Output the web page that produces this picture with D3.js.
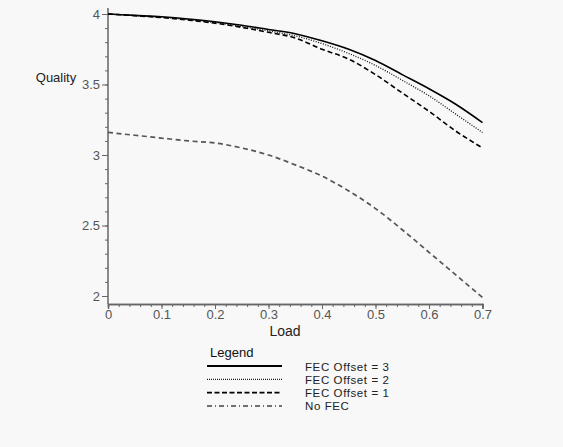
<!DOCTYPE html>
<html>
<head>
<meta charset="utf-8">
<script src="https://cdn.jsdelivr.net/npm/d3@7"></script>
<style>
  html, body { margin: 0; padding: 0; background: #f8f8f8; }
  svg { display: block; font-family: "Liberation Sans", Arial, sans-serif; }
</style>
</head>
<body>
<svg id="chart" width="563" height="447"></svg>
<script>
// load values (x axis)
const load = [0, 0.05, 0.1, 0.15, 0.2, 0.25, 0.3, 0.35, 0.4, 0.45, 0.5, 0.55, 0.6, 0.65, 0.7];
// quality per series
const fec3 = [4.00, 3.99, 3.98, 3.965, 3.945, 3.92, 3.89, 3.86, 3.81, 3.75, 3.67, 3.57, 3.47, 3.36, 3.23];
const fec2 = [4.00, 3.99, 3.978, 3.96, 3.94, 3.912, 3.88, 3.845, 3.79, 3.72, 3.635, 3.53, 3.42, 3.29, 3.16];
const fec1 = [4.00, 3.988, 3.975, 3.957, 3.935, 3.905, 3.87, 3.83, 3.75, 3.68, 3.57, 3.44, 3.31, 3.17, 3.05];
const noFec = [3.16, 3.14, 3.12, 3.10, 3.085, 3.05, 3.00, 2.93, 2.85, 2.745, 2.62, 2.47, 2.31, 2.15, 1.99];
const seriesNames = ["FEC Offset = 3", "FEC Offset = 2", "FEC Offset = 1", "No FEC"];
const xTicks = [0, 0.1, 0.2, 0.3, 0.4, 0.5, 0.6, 0.7];
const yTicks = [2, 2.5, 3, 3.5, 4];

const svg = d3.select("#chart");
const x = d3.scaleLinear().domain([0, 0.7]).range([108, 482.5]);
const y = d3.scaleLinear().domain([2, 4]).range([296, 14]);
const axisColor = "#666";
const labelColor = "#555";

// x axis
const xAxisG = svg.append("g").attr("transform", "translate(0,304)");
xAxisG.call(d3.axisBottom(x).tickValues(d3.range(0, 0.7001, 0.02)).tickSize(3).tickFormat(""));
xAxisG.call(g => g.append("g").call(d3.axisBottom(x).tickValues(xTicks).tickSize(5).tickFormat(d => d === 0 ? "0" : d3.format(".1f")(d))));
xAxisG.selectAll(".domain").attr("stroke", axisColor).attr("stroke-width", 1.5);
xAxisG.selectAll(".tick line").attr("stroke", axisColor);
xAxisG.selectAll("text").attr("fill", labelColor).attr("font-size", 13).attr("dy", "0.5em").attr("font-family", "Liberation Sans, Arial, sans-serif");

// y axis
const yAxisG = svg.append("g").attr("transform", "translate(108,0)");
yAxisG.call(d3.axisLeft(y).tickValues(d3.range(2, 4.0001, 0.1)).tickSize(3).tickFormat(""));
yAxisG.call(g => g.append("g").call(d3.axisLeft(y).tickValues(yTicks).tickSize(6).tickFormat(d3.format("~g"))));
yAxisG.selectAll(".domain").remove();
yAxisG.append("line").attr("x1", 0).attr("x2", 0).attr("y1", 8).attr("y2", 304)
  .attr("stroke", axisColor).attr("stroke-width", 1.5);
yAxisG.selectAll(".tick line").attr("stroke", axisColor);
yAxisG.selectAll("text").attr("fill", labelColor).attr("font-size", 13).attr("x", -8).attr("font-family", "Liberation Sans, Arial, sans-serif");

// axis titles
svg.append("text").attr("x", 56).attr("y", 82).attr("text-anchor", "middle")
  .attr("font-size", 13).attr("fill", "#222").text("Quality");
svg.append("text").attr("x", 285).attr("y", 336).attr("text-anchor", "middle")
  .attr("font-size", 14).attr("fill", "#222").text("Load");

// curves
const styles = [
  { data: fec3, stroke: "#000", width: 1.6, dash: null },
  { data: fec2, stroke: "#111", width: 1.3, dash: "1,1.5" },
  { data: fec1, stroke: "#000", width: 1.6, dash: "5,3" },
  { data: noFec, stroke: "#555", width: 1.7, dash: "5,3.5" }
];
const line = d3.line().x((d, i) => x(load[i])).y(d => y(d)).curve(d3.curveMonotoneX);
styles.forEach(s => {
  svg.append("path").attr("d", line(s.data)).attr("fill", "none")
    .attr("stroke", s.stroke).attr("stroke-width", s.width)
    .attr("stroke-dasharray", s.dash);
});

// legend
const legend = svg.append("g");
legend.append("text").attr("x", 210).attr("y", 357).attr("font-size", 13).attr("fill", "#111").text("Legend");
const legendDash = [null, "1,1", "5,2.5", "5,3,1,3"];
const legendCol = ["#000", "#222", "#000", "#444"];
const legendW = [1.8, 1.3, 1.8, 1.5];
seriesNames.forEach((name, i) => {
  const ly = 366 + i * 13.3;
  legend.append("line").attr("x1", 207).attr("x2", 282).attr("y1", ly).attr("y2", ly)
    .attr("stroke", legendCol[i]).attr("stroke-width", legendW[i]).attr("stroke-dasharray", legendDash[i]);
  legend.append("text").attr("x", 305).attr("y", ly + 4.5).attr("font-size", 11.5)
    .attr("letter-spacing", 0.6).attr("fill", "#222").text(name);
});
</script>
</body>
</html>
